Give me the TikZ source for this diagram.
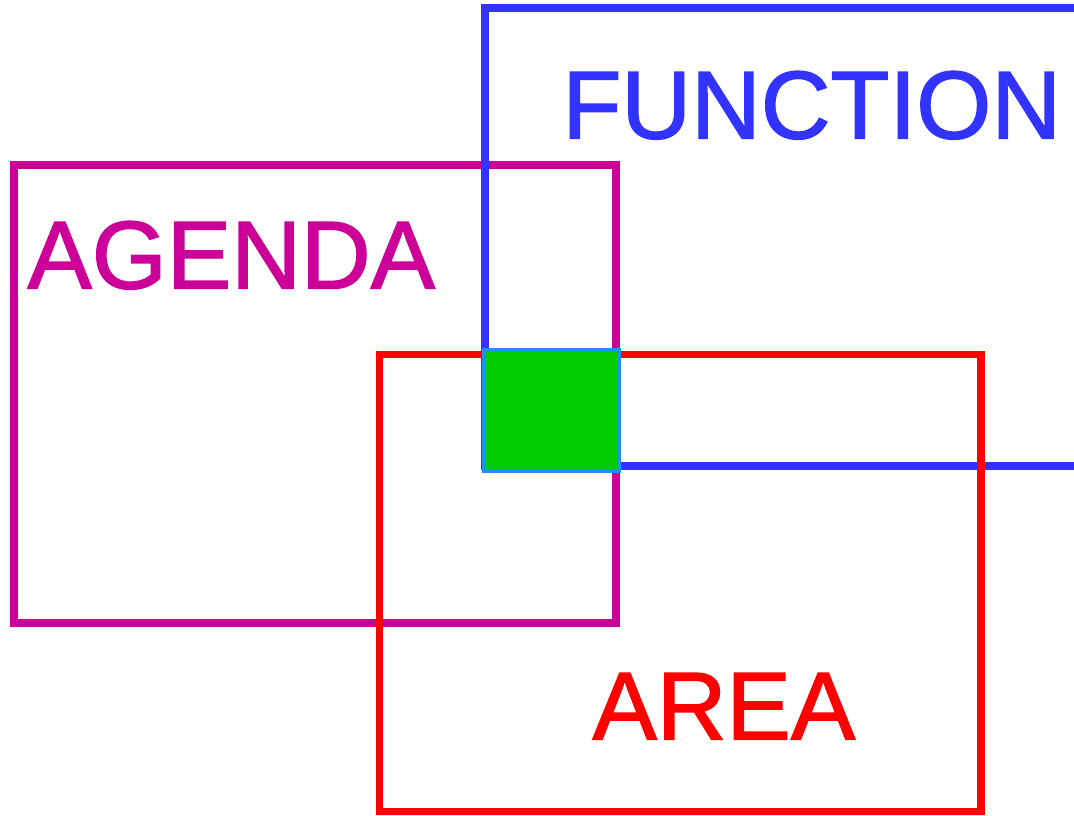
\documentclass[tikz,border=0pt]{standalone}
\usepackage{fontspec}
\setmainfont{Liberation Sans}
\newfontfamily\titlefont[FakeBold=1.5]{Liberation Sans}
\definecolor{agendacol}{RGB}{204,0,153}
\definecolor{functioncol}{RGB}{51,51,255}
\definecolor{areacol}{RGB}{255,0,0}
\definecolor{overlapfill}{RGB}{0,204,0}
\definecolor{overlapedge}{RGB}{30,144,255}
\tikzset{
  frame/.style={draw, line width=7.5pt, inner sep=0pt, outer sep=0pt},
  label/.style={anchor=base west, inner sep=0pt, outer sep=0pt,
    font=\titlefont\fontsize{96.5}{100}\selectfont},
}
\begin{document}
\begin{tikzpicture}[x=1pt, y=-1pt]
  \useasboundingbox (0,0) rectangle (1074,815);
  \clip (0,0) rectangle (1074,815);
  % the three sets
  \node[frame, agendacol, minimum width=602pt, minimum height=458pt] (agenda) at (315,394) {};
  \node[frame, functioncol, minimum width=615pt, minimum height=458pt] (function) at (792.5,237) {};
  \node[frame, areacol, minimum width=601.5pt, minimum height=457pt] (area) at (680.25,583) {};
  % common part of all three
  \node[draw=overlapedge, fill=overlapfill, line width=3pt, inner sep=0pt,
        minimum width=136pt, minimum height=122pt] (common) at (551.5,410.5) {};
  % titles
  \node[label, text=functioncol] (functiontitle) at (562.5,138.5) {FUNCTION};
  \node[label, text=agendacol] (agendatitle) at (27.5,288.5) {AGENDA};
  \node[label, text=areacol] (areatitle) at (592.5,739.5) {AREA};
\end{tikzpicture}
\end{document}
